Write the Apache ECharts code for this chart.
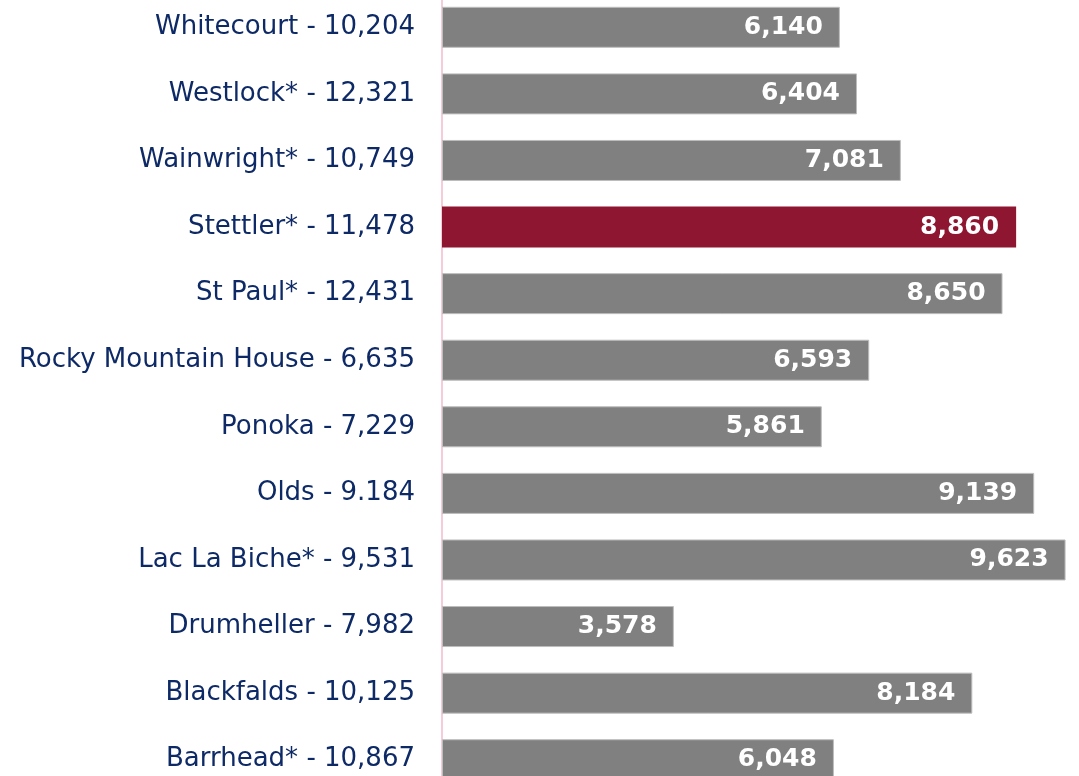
<!DOCTYPE html>
<html>
<head>
<meta charset="utf-8">
<script src="https://cdn.jsdelivr.net/npm/echarts@6/dist/echarts.min.js"></script>
<style>
html, body { margin: 0; padding: 0; background: #fff; }
#bars { width: 1079px; height: 776px; }
</style>
</head>
<body>
<div id="bars"></div>
<script>
// towns, top to bottom
var towns = ['Whitecourt - 10,204', 'Westlock* - 12,321', 'Wainwright* - 10,749', 'Stettler* - 11,478',
    'St Paul* - 12,431', 'Rocky Mountain House - 6,635', 'Ponoka - 7,229', 'Olds - 9.184',
    'Lac La Biche* - 9,531', 'Drumheller - 7,982', 'Blackfalds - 10,125', 'Barrhead* - 10,867'];
var values = [6140, 6404, 7081, 8860, 8650, 6593, 5861, 9139, 9623, 3578, 8184, 6048];
var highlight = 'Stettler* - 11,478';

(function(){

var chart = echarts.init(document.getElementById('bars'));

var data = values.map(function(v, i) {
    if (towns[i] === highlight) {
        return { value: v, itemStyle: { color: '#8E1631', borderWidth: 0 } };
    }
    return v;
});

option = {
    animation: false,
    grid: {
        left: 442,
        top: -6,
        width: 648,
        height: 799,
        containLabel: false,
        outerBoundsMode: 'none'
    },
    xAxis: {
        type: 'value',
        min: 0,
        max: 10000,
        show: false
    },
    yAxis: {
        type: 'category',
        inverse: true,
        data: towns,
        axisLine: { show: true, lineStyle: { color: '#F5CCD8', width: 2 } },
        axisTick: { show: false },
        axisLabel: {
            margin: 27,
            color: '#0E2A66',
            fontFamily: 'DejaVu Sans',
            fontSize: 26
        }
    },
    series: [
        {
            type: 'bar',
            barWidth: 41,
            data: data,
            itemStyle: {
                color: '#808080',
                borderColor: '#BDBDBD',
                borderWidth: 1
            },
            label: {
                show: true,
                position: 'insideRight',
                distance: 17,
                color: '#fff',
                fontFamily: 'DejaVu Sans',
                fontWeight: 'bold',
                fontSize: 25,
                formatter: function(p) { return p.value.toLocaleString('en-US'); }
            }
        }
    ]
};

chart.setOption(option);
})();
</script>
</body>
</html>
